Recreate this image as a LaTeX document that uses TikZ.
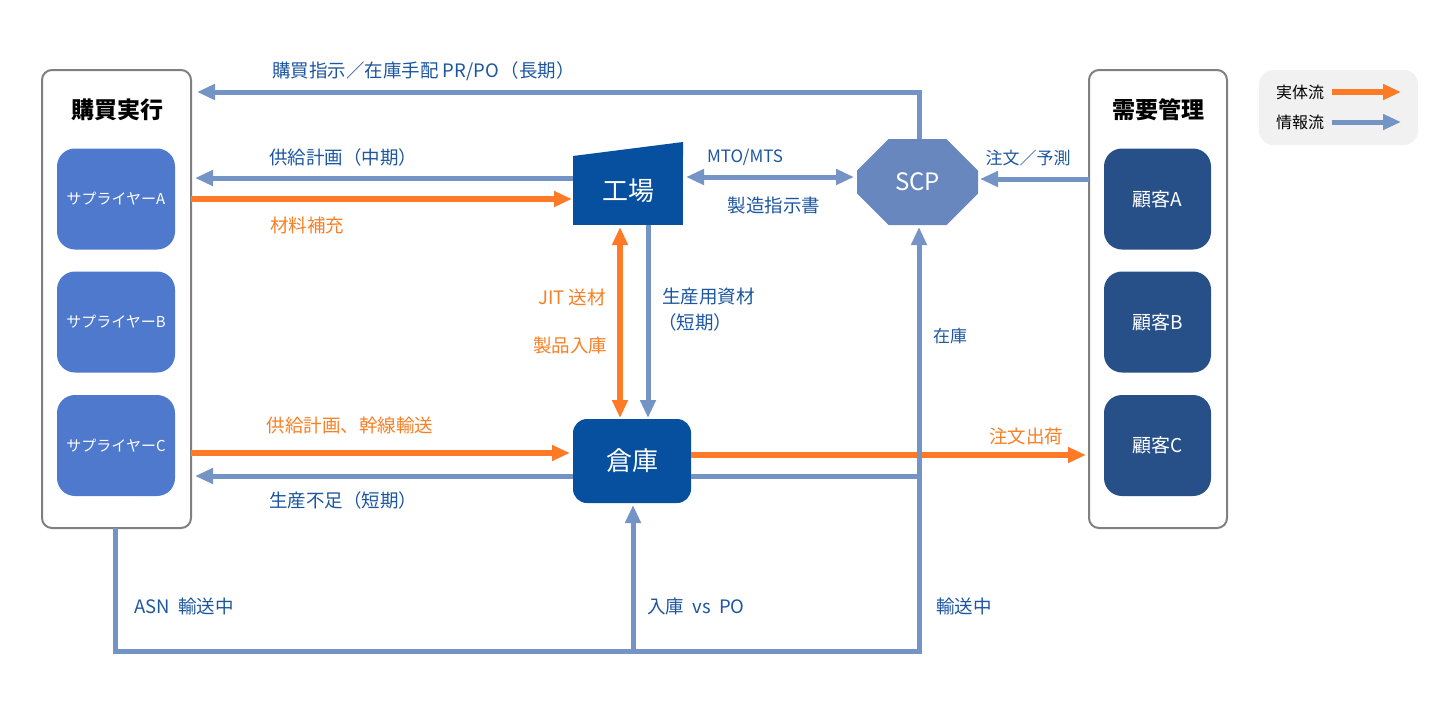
\documentclass[tikz,border=0pt]{standalone}
\usepackage{fontspec}
\setmainfont{Noto Sans CJK JP}
\definecolor{infoflow}{HTML}{7394C5}
\definecolor{goodsflow}{HTML}{FF7A26}
\definecolor{darkblue}{HTML}{07509F}
\definecolor{supplierblue}{HTML}{4E79CC}
\definecolor{customerblue}{HTML}{275088}
\definecolor{scpblue}{HTML}{6787BE}
\definecolor{infotext}{HTML}{1C56A0}
\definecolor{goodstext}{HTML}{F77F24}
\definecolor{panelgray}{HTML}{808080}
\definecolor{legendgray}{HTML}{F1F1F1}
\usetikzlibrary{arrows.meta, positioning, shapes.misc}

\begin{document}
\begin{tikzpicture}[
  x=1pt, y=-1pt,
  panel/.style={draw=panelgray, line width=2pt, fill=white, rounded corners=10pt, outer sep=0pt, inner sep=0pt, minimum height=458pt},
  paneltitle/.style={font=\fontsize{23}{27}\selectfont\bfseries, text=black},
  supplier/.style={fill=supplierblue, rounded corners=18pt, minimum width=118pt, minimum height=101pt, outer sep=0pt, inner sep=0pt, text=white, font=\fontsize{15}{20}\selectfont},
  customer/.style={fill=customerblue, rounded corners=18pt, minimum width=107pt, minimum height=101pt, outer sep=0pt, inner sep=0pt, text=white, font=\fontsize{19}{22}\selectfont},
  hub/.style={fill=darkblue, outer sep=0pt, inner sep=0pt, text=white, font=\fontsize{26}{30}\selectfont},
  info/.style={draw=infoflow, line width=5pt, -{Triangle[length=18pt, width=15pt]}},
  infoline/.style={draw=infoflow, line width=5pt},
  goods/.style={draw=goodsflow, line width=6pt, -{Triangle[length=18pt, width=15pt]}},
  infolabel/.style={font=\fontsize{18.5}{22}\selectfont, text=infotext, inner sep=0pt},
  smallinfolabel/.style={font=\fontsize{17}{20}\selectfont, text=infotext, inner sep=0pt},
  goodslabel/.style={font=\fontsize{18.5}{22}\selectfont, text=goodstext, inner sep=0pt},
  legendlabel/.style={font=\fontsize{16}{19}\selectfont, text=black, inner sep=0pt},
]
\useasboundingbox (0,0) rectangle (1440,716);

% Panels
\node[panel, minimum width=149pt] (buyPanel) at (116.5,299) {};
\node[panel, minimum width=138pt] (demandPanel) at (1158,299) {};
\node[paneltitle] (buyTitle) at (117,110) {購買実行};
\node[paneltitle] (demandTitle) at (1158,110) {需要管理};

\node[supplier] (suppA) at (116,199) {サプライヤーA};
\node[supplier] (suppB) at (116,322) {サプライヤーB};
\node[supplier] (suppC) at (116,445.5) {サプライヤーC};
\node[customer] (custA) at (1157.5,199) {顧客A};
\node[customer] (custB) at (1157.5,322) {顧客B};
\node[customer] (custC) at (1157.5,445.5) {顧客C};

% Legend
\node[fill=legendgray, rounded corners=14pt, minimum width=159pt, minimum height=75pt, inner sep=0pt] (legendBox) at (1338.5,107.5) {};
\node[legendlabel] (legendGoods) at (1300,92) {実体流};
\node[legendlabel] (legendInfo) at (1300,122) {情報流};
\coordinate (legendGoodsEnd) at (1401,92);
\coordinate (legendInfoEnd) at (1401,122);
\draw[goods] ([xshift=8pt]legendGoods.east) -- (legendGoodsEnd);
\draw[info] ([xshift=8pt]legendInfo.east) -- (legendInfoEnd);

% Hubs
\node[hub, minimum width=110pt, minimum height=69pt] (factory) at (628,190.5) {工場};
\fill[darkblue] (factory.north west) -- ([yshift=14pt]factory.north east) -- (factory.north east) -- cycle;
\node[hub, rounded corners=14pt, minimum width=118pt, minimum height=84pt] (depot) at (632,461) {倉庫};
\node[fill=scpblue, chamfered rectangle, chamfered rectangle xsep=25pt, chamfered rectangle ysep=25pt, minimum width=121pt, minimum height=86pt, inner sep=0pt, outer sep=0pt, text=white, font=\fontsize{24}{28}\selectfont] (scp) at (917.5,182) {\raisebox{-4pt}{SCP}};

% Goods flows
\draw[goods] (buyPanel.east |- factory.center) ++(0,8.5) -- ([yshift=-8.5pt,xshift=-1pt]factory.west);
\draw[goods] ([yshift=-7.5pt]buyPanel.east |- suppC.center) -- ([yshift=8pt,xshift=-3pt]depot.west);
\draw[goods] ([yshift=6pt]depot.east) -- ([yshift=6pt,xshift=-3pt]demandPanel.west |- depot.center);
\draw[goods, {Triangle[length=18pt, width=15pt]}-{Triangle[length=18pt, width=15pt]}] ([xshift=-8pt,yshift=-2pt]factory.south) -- ([xshift=-12pt,yshift=1pt]depot.north);

% Information flows
\coordinate (orderTurn) at (919,92);
\coordinate (busTurn) at (633,651);
\draw[info] ([xshift=1.5pt]scp.north) |- ([xshift=6pt]buyPanel.east |- orderTurn);
\draw[info] ([yshift=12.5pt]factory.west) -- ([xshift=4pt,yshift=12.5pt]buyPanel.east |- factory.center);
\draw[info, {Triangle[length=18pt, width=15pt]}-{Triangle[length=18pt, width=15pt]}] ([xshift=3pt,yshift=13.5pt]factory.east) -- ([xshift=-3pt,yshift=5pt]scp.west);
\draw[info] ([yshift=3pt]demandPanel.west |- scp.east) -- ([xshift=2pt,yshift=3pt]scp.east);
\draw[info] ([xshift=20pt]factory.south) -- ([xshift=16pt,yshift=1pt]depot.north);
\draw[info] ([yshift=-15pt]depot.west) -- ([xshift=4pt,yshift=-15pt]buyPanel.east |- depot.center);
\draw[infoline] ([yshift=-15pt]depot.east) -- ([yshift=-15pt]scp.south |- depot.center);
\draw[info] ([xshift=-1.5pt]buyPanel.south) |- (busTurn) -| ([xshift=1.5pt,yshift=-2pt]scp.south);
\draw[info] (busTurn) -- ([xshift=1pt,yshift=-2pt]depot.south);

% Flow labels
\node[infolabel, anchor=west] (poLabel) at (272,71) {購買指示／在庫手配 PR/PO\hspace{2pt}（長期）};
\node[infolabel, anchor=west] (planLabel) at (269,157) {供給計画（中期）};
\node[goodslabel] (fillLabel) at (307,225) {材料補充};
\node[smallinfolabel] (mtoLabel) at (745,157) {MTO/MTS};
\node[infolabel] (orderDocLabel) at (774,205) {製造指示書};
\node[smallinfolabel] (forecastLabel) at (1028,158) {注文／予測};
\node[goodslabel] (jitLabel) at (572,297) {JIT 送材};
\node[goodslabel] (storeLabel) at (570,345) {製品入庫};
\node[infolabel, anchor=west] (matLabel) at (662,297) {生産用資材};
\node[infolabel] (shortLabel) at (695,322) {（短期）};
\node[smallinfolabel] (stockLabel) at (950,336) {在庫};
\node[goodslabel] (trunkLabel) at (350,425) {供給計画、幹線輸送};
\node[infolabel, anchor=west] (lackLabel) at (269,500) {生産不足（短期）};
\node[goodslabel] (shipLabel) at (1026,436) {注文出荷};
\node[infolabel, anchor=west] (asnLabel) at (134,606) {ASN\ \ 輸送中};
\node[infolabel, anchor=west] (receiptLabel) at (647,606) {入庫\ \ vs\ \ PO};
\node[infolabel] (transitLabel) at (964,606) {輸送中};

\end{tikzpicture}
\end{document}
